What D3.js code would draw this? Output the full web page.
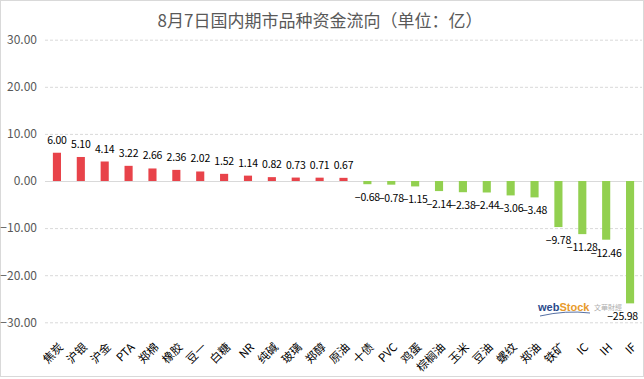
<!DOCTYPE html>
<html><head><meta charset="utf-8">
<script src="https://cdn.jsdelivr.net/npm/d3@7"></script>
<style>body{margin:0;background:#fff}svg{display:block}</style>
</head><body>
<script>
const title = "8月7日国内期市品种资金流向（单位：亿）";
const categories = ["焦炭","沪银","沪金","PTA","郑棉","橡胶","豆一","白糖","NR","纯碱","玻璃","郑醇","原油","十债","PVC","鸡蛋","棕榈油","玉米","豆油","螺纹","郑油","铁矿","IC","IH","IF"];
const values = [6.00,5.10,4.14,3.22,2.66,2.36,2.02,1.52,1.14,0.82,0.73,0.71,0.67,-0.68,-0.78,-1.15,-2.14,-2.38,-2.44,-3.06,-3.48,-9.78,-11.28,-12.46,-25.98];
const yTicks = [30,20,10,0,-10,-20,-30];

const W = 644, H = 379;
const svg = d3.select("body").append("svg").attr("width", W).attr("height", H);
svg.append("rect").attr("x",0.5).attr("y",0.5).attr("width",W-1).attr("height",H-3)
  .attr("fill","#fff").attr("stroke","#d9d9d9");

const x = d3.scaleBand().domain(categories).range([45, 642]).paddingInner(0.66).paddingOuter(0.33);
const y = d3.scaleLinear().domain([-30, 30]).range([322.3, 39.7]);

const cjk = "'Noto Sans CJK SC', 'Noto Sans', sans-serif";

svg.append("text").attr("x", 320).attr("y", 27).attr("text-anchor","middle")
  .attr("font-family", cjk).attr("font-size", 17).attr("fill","#595959").text(title);

// grid
const gy = svg.append("g").attr("transform","translate(45,0)")
  .call(d3.axisLeft(y).tickValues(yTicks).tickSize(-(642-45)).tickFormat(d3.format(".2f")));
gy.select(".domain").remove();
gy.selectAll(".tick line").attr("stroke","#d9d9d9").attr("stroke-dasharray", d => d === 0 ? null : "3,2");
gy.selectAll(".tick text").attr("x",-8).attr("fill","#595959").attr("font-size",12)
  .attr("font-family", cjk);

// bars
svg.append("g").selectAll("rect").data(values).join("rect")
  .attr("x", (d,i) => x(categories[i]))
  .attr("width", x.bandwidth())
  .attr("y", d => y(Math.max(0,d)))
  .attr("height", d => Math.abs(y(d) - y(0)))
  .attr("fill", d => d >= 0 ? "#e8434a" : "#92d050");

// value labels
const vl = svg.append("g").selectAll("text").data(values).join("text")
  .attr("x", (d,i) => x(categories[i]) + x.bandwidth()/2)
  .attr("y", d => d >= 0 ? y(d) - 9 : y(d) + 17)
  .attr("text-anchor","middle")
  .attr("font-family", cjk).attr("font-size", 10.5).attr("letter-spacing", -0.2).attr("fill","#000")
  .text(d => d3.format(".2f")(d));
vl.each(function(){
  const w = this.getComputedTextLength();
  const cx = +this.getAttribute("x");
  if (cx + w/2 > W - 6) this.setAttribute("x", W - 6 - w/2);
});

// category labels
const gx = svg.append("g").attr("transform","translate(0,322)")
  .call(d3.axisBottom(x).tickSize(0));
gx.select(".domain").remove();
gx.selectAll(".tick text")
  .attr("font-family", cjk).attr("font-size", 11.5).attr("fill","#000")
  .attr("text-anchor","end").attr("dy", "0.35em")
  .attr("transform","translate(2,21) rotate(-45)");

// watermark
const wm = svg.append("g").attr("transform","translate(538,311)");
wm.append("text").attr("font-family","'Liberation Sans', sans-serif").attr("font-weight","bold")
  .attr("font-size",11).attr("fill","#2a4a8c").text("web")
  .append("tspan").attr("fill","#e89a2a").text("Stock");
wm.append("text").attr("x",56).attr("y",-1).attr("font-family",cjk).attr("font-size",7).attr("fill","#b0b0b0").text("文華財經");
wm.append("path").attr("d","M2,5 Q28,-1 52,2").attr("fill","none").attr("stroke","#2a4a8c").attr("stroke-width",0.8);
</script>
</body></html>
